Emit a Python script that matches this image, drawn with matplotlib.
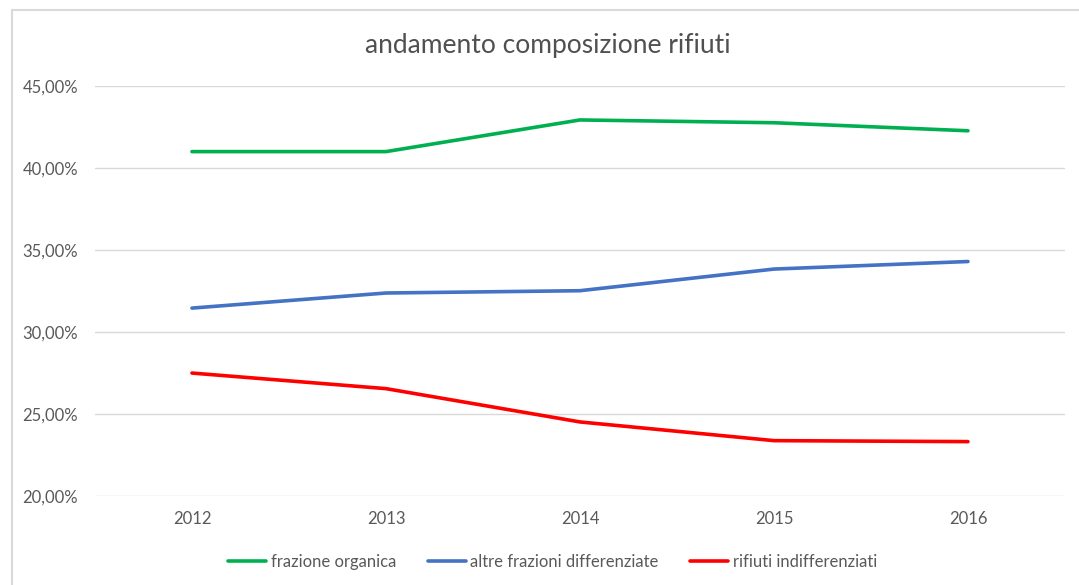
import matplotlib.pyplot as plt
from matplotlib.patches import Rectangle
from matplotlib.ticker import FuncFormatter

years = ['2012', '2013', '2014', '2015', '2016']
organica = [41.0, 41.0, 42.93, 42.76, 42.27]
altre = [31.46, 32.38, 32.52, 33.84, 34.3]
indiff = [27.5, 26.55, 24.52, 23.38, 23.32]

plt.rcParams['font.family'] = ['Lato', 'DejaVu Sans']

fig = plt.figure(figsize=(10.79, 5.85), dpi=100)
ax = fig.add_axes([0.088, 0.152, 0.899, 0.701])

# light frame around the chart, like the excel chart area
fig.patches.append(Rectangle((0.011, -0.1), 1.2, 1.083, transform=fig.transFigure,
                             fill=False, edgecolor='#d9d9d9', linewidth=1.5))

x = range(len(years))
ax.plot(x, organica, color='#00b050', lw=2.6, label='frazione organica', solid_capstyle='round')
ax.plot(x, altre, color='#4472c4', lw=2.6, label='altre frazioni differenziate', solid_capstyle='round')
ax.plot(x, indiff, color='#ff0000', lw=2.6, label='rifiuti indifferenziati', solid_capstyle='round')

ax.set_xlim(-0.5, 4.5)
ax.set_ylim(20, 45)
ax.set_yticks([20, 25, 30, 35, 40, 45])
ax.yaxis.set_major_formatter(FuncFormatter(lambda v, p: f'{v:.2f}%'.replace('.', ',')))
ax.set_xticks(list(x))
ax.set_xticklabels(years)
ax.grid(axis='y', color='#d9d9d9', lw=1)
ax.set_axisbelow(True)
for s in ax.spines.values():
    s.set_visible(False)
ax.tick_params(length=0, colors='#595959', labelsize=12)
ax.tick_params(axis='x', pad=11)
ax.tick_params(axis='y', pad=12)

fig.text(0.508, 0.922, 'andamento composizione rifiuti', ha='center', va='center',
         fontsize=19, color='#505050')

fig.legend(loc='center', bbox_to_anchor=(0.512, 0.04), ncol=3, frameon=False,
           fontsize=12, labelcolor='#595959', handlelength=2.3, handletextpad=0.25,
           columnspacing=1.9)

fig.savefig('out.png', dpi=100)
